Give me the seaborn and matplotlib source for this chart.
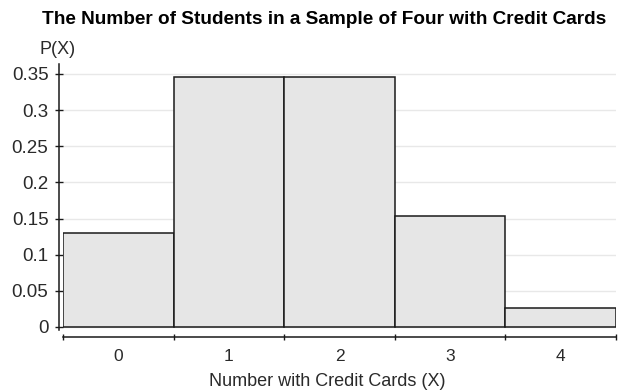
import matplotlib
matplotlib.use("Agg")
import matplotlib.pyplot as plt
import seaborn as sns

# chart data
x_values = ["0", "1", "2", "3", "4"]
probs = [0.1296, 0.3456, 0.3456, 0.1536, 0.0256]
y_ticks = [0, 0.05, 0.1, 0.15, 0.2, 0.25, 0.3, 0.35]
y_tick_labels = ["0", "0.05", "0.1", "0.15", "0.2", "0.25", "0.3", "0.35"]

sns.set_style("white")
plt.rcParams["font.family"] = ["Liberation Sans", "DejaVu Sans"]

fig = plt.figure(figsize=(6.18, 3.91), dpi=100)
ax = fig.add_axes([63 / 618, 61 / 391, 553 / 618, 266 / 391])

sns.barplot(x=x_values, y=probs, width=1.0, color="#e6e6e6", saturation=1,
            edgecolor="#1a1a1a", linewidth=1.1, ax=ax, zorder=2)

ax.set_xlim(-0.5, 4.5)
ax.set_ylim(-0.00415, 0.3638)

# spines
ax.spines["top"].set_visible(False)
ax.spines["right"].set_visible(False)
ax.spines["left"].set_position(("outward", 3))
ax.spines["left"].set_linewidth(1.1)
ax.spines["left"].set_color("#1a1a1a")
ax.spines["bottom"].set_position(("outward", 5))
ax.spines["bottom"].set_linewidth(1.1)
ax.spines["bottom"].set_color("#1a1a1a")
ax.spines["bottom"].set_bounds(-0.5, 4.5)

# y ticks + horizontal grid
ax.tick_params(axis="y", left=True, direction="inout", length=6, width=1,
               color="#1a1a1a", pad=4.5, labelsize=13.5, labelcolor="#2a2a2a")
ax.set_yticks(y_ticks)
ax.set_yticklabels(y_tick_labels)
ax.yaxis.grid(True, color="#e8e8e8", linewidth=1, zorder=0)
ax.set_axisbelow(True)

# x ticks at bar edges, labels at centres
ax.tick_params(axis="x", which="major", bottom=True, direction="inout", length=4,
               width=1, color="#1a1a1a")
ax.tick_params(axis="x", which="minor", bottom=True, length=0, pad=9,
               labelsize=12.5, labelcolor="#2a2a2a")
ax.set_xticks([i - 0.5 for i in range(len(x_values) + 1)])
ax.set_xticklabels([""] * (len(x_values) + 1))
ax.set_xticks(range(len(x_values)), minor=True)
ax.set_xticklabels(x_values, minor=True)

ax.set_xlabel("Number with Credit Cards (X)", fontsize=13, color="#2a2a2a")
ax.xaxis.label.set_va("center")
ax.xaxis.set_label_coords((327 - 63) / 553, -(381 - 330) / 266)
ax.set_ylabel("")

fig.text(58 / 618, 1 - 49 / 391, "P(X)", fontsize=13, color="#2a2a2a", ha="center", va="center")
fig.text(324 / 618, 1 - 19 / 391, "The Number of Students in a Sample of Four with Credit Cards",
         fontsize=13.7, fontweight="bold", ha="center", va="center", color="black")

fig.savefig("out.png", dpi=100)
